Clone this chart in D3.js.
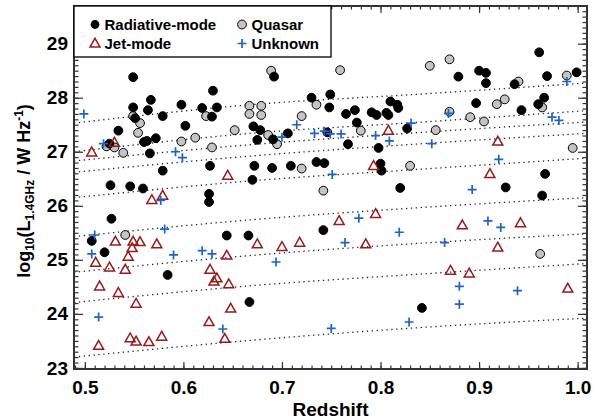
<!DOCTYPE html>
<html>
<head>
<meta charset="utf-8">
<script src="https://cdn.jsdelivr.net/npm/d3@7"></script>
<style>
  body { margin: 0; background: #fff; }
  text { font-family: "Liberation Sans", Arial, Helvetica, sans-serif; font-weight: bold; fill: #000; }
</style>
</head>
<body>
<svg id="chart" width="608" height="419"></svg>
<script>
// [redshift, log10 L(1.4GHz)]
const radiative = [
  [0.549,28.38],[0.630,28.13],[0.567,27.96],[0.549,27.82],[0.564,27.77],[0.598,27.87],[0.619,27.81],
  [0.634,27.82],[0.579,27.66],[0.629,27.65],[0.551,27.62],[0.602,27.48],[0.534,27.39],[0.572,27.25],
  [0.563,27.20],[0.560,27.18],[0.566,26.97],[0.579,26.65],[0.627,26.74],[0.526,26.38],[0.546,26.36],
  [0.559,26.32],[0.626,26.22],[0.626,26.07],[0.525,27.15],[0.527,25.76],[0.507,25.35],[0.520,25.14],
  [0.644,25.45],[0.666,25.45],[0.584,24.72],[0.667,24.22],[0.671,27.47],[0.678,27.40],[0.675,27.22],
  [0.691,27.23],[0.706,27.34],[0.692,28.39],[0.730,28.00],[0.749,28.06],[0.748,27.82],[0.765,27.70],
  [0.774,27.77],[0.791,27.73],[0.796,27.68],[0.806,27.72],[0.808,27.68],[0.810,27.93],[0.817,27.87],
  [0.818,27.81],[0.776,27.54],[0.746,27.36],[0.767,27.14],[0.798,27.07],[0.827,27.43],[0.672,26.74],
  [0.690,26.70],[0.709,26.74],[0.735,26.81],[0.743,26.79],[0.800,26.78],[0.801,26.65],[0.670,26.48],
  [0.820,26.33],[0.879,28.39],[0.900,28.50],[0.907,28.46],[0.907,28.27],[0.961,28.84],[0.969,28.40],
  [0.999,28.47],[0.936,28.25],[0.897,27.90],[0.943,27.77],[0.966,28.00],[0.960,27.88],[0.967,26.59],
  [0.927,26.34],[0.964,26.19],[0.742,25.55],[0.842,24.11]
];
const quasar = [
  [0.689,28.50],[0.759,28.51],[0.850,28.59],[0.870,28.71],[0.549,27.66],[0.556,27.53],[0.554,27.35],
  [0.522,27.10],[0.530,27.08],[0.539,26.98],[0.598,27.19],[0.612,27.26],[0.629,27.08],[0.623,27.66],
  [0.652,27.40],[0.667,27.85],[0.679,27.85],[0.667,27.70],[0.679,27.68],[0.686,27.31],[0.695,27.14],
  [0.720,27.66],[0.735,27.87],[0.780,27.39],[0.720,26.69],[0.830,26.74],[0.742,26.28],[0.856,27.40],
  [0.870,27.74],[0.891,27.64],[0.905,27.56],[0.918,27.88],[0.926,27.97],[0.940,28.30],[0.964,27.82],
  [0.989,28.41],[0.995,27.07],[0.962,25.11],[0.541,25.46]
];
const jetMode = [
  [0.507,26.99],[0.530,27.17],[0.645,26.56],[0.568,26.11],[0.579,26.19],[0.808,27.39],[0.793,26.74],
  [0.795,25.85],[0.758,25.72],[0.919,27.19],[0.911,26.59],[0.531,25.34],[0.549,25.34],[0.556,25.33],
  [0.548,25.22],[0.573,25.29],[0.544,25.06],[0.511,24.95],[0.525,24.86],[0.541,24.82],[0.644,25.08],
  [0.515,24.51],[0.534,24.39],[0.552,24.19],[0.627,24.82],[0.634,24.66],[0.631,24.60],[0.646,24.55],
  [0.648,24.10],[0.626,23.85],[0.642,23.54],[0.546,23.55],[0.552,23.49],[0.565,23.48],[0.578,23.58],
  [0.514,23.41],[0.675,25.29],[0.700,25.24],[0.718,25.32],[0.785,25.29],[0.883,25.64],[0.942,25.68],
  [0.919,25.23],[0.871,24.80],[0.890,24.75],[0.990,24.47]
];
const unknown = [
  [0.499,27.70],[0.519,27.15],[0.592,27.00],[0.599,26.89],[0.577,26.10],[0.715,27.50],[0.700,27.27],
  [0.733,27.34],[0.743,27.38],[0.749,27.33],[0.760,27.33],[0.795,27.30],[0.809,27.20],[0.831,27.53],
  [0.751,26.58],[0.869,27.71],[0.852,27.15],[0.974,27.64],[0.981,27.58],[0.989,28.30],[0.920,26.86],
  [0.893,26.30],[0.510,25.46],[0.507,25.11],[0.581,25.57],[0.590,25.09],[0.619,25.17],[0.629,25.11],
  [0.514,23.94],[0.640,23.72],[0.694,24.96],[0.778,25.77],[0.764,25.32],[0.819,25.51],[0.829,23.85],
  [0.750,23.73],[0.909,25.72],[0.922,25.60],[0.865,25.32],[0.880,24.51],[0.880,24.18],[0.939,24.43]
];

// dotted limit curves, read at these redshifts
const limitZ = [0.489, 0.668, 0.843, 1.008];
const limitLines = [
  [27.53, 27.87, 28.07, 28.27],
  [27.00, 27.34, 27.55, 27.76],
  [26.83, 27.13, 27.36, 27.55],
  [26.62, 26.92, 27.15, 27.34],
  [26.15, 26.46, 26.68, 26.88],
  [25.43, 25.74, 25.97, 26.15],
  [24.77, 25.08, 25.31, 25.48],
  [24.21, 24.52, 24.74, 24.93],
  [23.20, 23.51, 23.75, 23.92]
];

const xTicks = [0.5, 0.6, 0.7, 0.8, 0.9, 1.0];
const xTickLabels = ['0.5', '0.6', '0.7', '0.8', '0.9', '1.0'];
const yTicks = [23, 24, 25, 26, 27, 28, 29];
const legendLabels = ['Radiative-mode', 'Quasar', 'Jet-mode', 'Unknown'];

const pLeft = 74, pRight = 587, pTop = 6, pBottom = 369;
const svg = d3.select('#chart');

const x = d3.scaleLinear().domain([0.489, 1.0095]).range([pLeft, pRight]);
const y = d3.scaleLinear().domain([22.98, 29.697]).range([pBottom, pTop]);

const red = '#9a1a1a', blue = '#1d63cc', axisCol = '#333';

svg.append('defs').append('clipPath').attr('id', 'plotclip')
  .append('rect').attr('x', pLeft).attr('y', pTop).attr('width', pRight - pLeft).attr('height', pBottom - pTop);

// limit curves
const line = d3.line().x(d => x(d[0])).y(d => y(d[1])).curve(d3.curveMonotoneX);
svg.append('g').attr('clip-path', 'url(#plotclip)')
  .selectAll('path').data(limitLines).join('path')
  .attr('d', vals => line(vals.map((v, i) => [limitZ[i], v])))
  .attr('fill', 'none').attr('stroke', '#222').attr('stroke-width', 1.3)
  .attr('stroke-dasharray', '1.3,3.6');

// axes
const minorX = d3.range(49, 101).map(d => d / 100);
const minorY = d3.range(230, 297).map(d => d / 10);

const styleAxis = g => {
  g.select('.domain').remove();
  g.selectAll('line').attr('stroke', axisCol).attr('stroke-width', 1.2);
  g.selectAll('text').attr('font-size', 19).attr('font-family', null).attr('fill', '#000');
};

svg.append('g').attr('transform', `translate(0,${pBottom})`)
  .call(d3.axisBottom(x).tickValues(minorX).tickSize(-3.5).tickFormat('')).call(styleAxis);
svg.append('g').attr('transform', `translate(0,${pBottom})`)
  .call(d3.axisBottom(x).tickValues(xTicks).tickSize(-7).tickPadding(12)
    .tickFormat((d, i) => xTickLabels[i])).call(styleAxis);
svg.append('g').attr('transform', `translate(0,${pTop})`)
  .call(d3.axisTop(x).tickValues(minorX).tickSize(-3.5).tickFormat('')).call(styleAxis);
svg.append('g').attr('transform', `translate(0,${pTop})`)
  .call(d3.axisTop(x).tickValues(xTicks).tickSize(-7).tickFormat('')).call(styleAxis);

svg.append('g').attr('transform', `translate(${pLeft},0)`)
  .call(d3.axisLeft(y).tickValues(minorY).tickSize(-4.5).tickFormat('')).call(styleAxis);
svg.append('g').attr('transform', `translate(${pLeft},0)`)
  .call(d3.axisLeft(y).tickValues(yTicks).tickSize(-9).tickPadding(6).tickFormat(d3.format('d'))).call(styleAxis);
svg.append('g').attr('transform', `translate(${pRight},0)`)
  .call(d3.axisRight(y).tickValues(minorY).tickSize(-4.5).tickFormat('')).call(styleAxis);
svg.append('g').attr('transform', `translate(${pRight},0)`)
  .call(d3.axisRight(y).tickValues(yTicks).tickSize(-9).tickFormat('')).call(styleAxis);

svg.append('rect').attr('x', pLeft).attr('y', pTop).attr('width', pRight - pLeft).attr('height', pBottom - pTop)
  .attr('fill', 'none').attr('stroke', axisCol).attr('stroke-width', 2);

// marker drawers
const triPath = 'M0,-5.2L5,3.6L-5,3.6Z';
const plusPath = 'M-4.5,0H4.5M0,-4.5V4.5';

const drawCircles = (g, data, fill, stroke) => g.selectAll(null).data(data).join('circle')
  .attr('cx', d => x(d[0])).attr('cy', d => y(d[1])).attr('r', 4.4)
  .attr('fill', fill).attr('stroke', stroke).attr('stroke-width', 1);

const pts = svg.append('g').attr('clip-path', 'url(#plotclip)');
drawCircles(pts.append('g'), quasar, '#c4c4c4', '#000');
drawCircles(pts.append('g'), radiative, '#000', '#000');
pts.append('g').selectAll('path').data(jetMode).join('path')
  .attr('transform', d => `translate(${x(d[0])},${y(d[1])})`).attr('d', triPath)
  .attr('fill', 'none').attr('stroke', red).attr('stroke-width', 1.5);
pts.append('g').selectAll('path').data(unknown).join('path')
  .attr('transform', d => `translate(${x(d[0])},${y(d[1])})`).attr('d', plusPath)
  .attr('fill', 'none').attr('stroke', blue).attr('stroke-width', 1.7);

// legend
const lg = svg.append('g');
lg.append('rect').attr('x', pLeft).attr('y', pTop).attr('width', 331 - pLeft).attr('height', 57 - pTop)
  .attr('fill', '#fff').attr('stroke', '#000').attr('stroke-width', 1.3);
const slots = [[95, 24.5], [242, 24.5], [95, 43.5], [242, 43.5]];
lg.append('circle').attr('cx', slots[0][0]).attr('cy', slots[0][1]).attr('r', 4.4).attr('fill', '#000');
lg.append('circle').attr('cx', slots[1][0]).attr('cy', slots[1][1]).attr('r', 4.4)
  .attr('fill', '#c4c4c4').attr('stroke', '#000');
lg.append('path').attr('transform', `translate(${slots[2][0]},${slots[2][1]})`).attr('d', triPath)
  .attr('fill', 'none').attr('stroke', red).attr('stroke-width', 1.5);
lg.append('path').attr('transform', `translate(${slots[3][0]},${slots[3][1]})`).attr('d', plusPath)
  .attr('fill', 'none').attr('stroke', blue).attr('stroke-width', 1.7);
lg.selectAll('text').data(legendLabels).join('text')
  .attr('x', (d, i) => slots[i][0] + 9.5).attr('y', (d, i) => slots[i][1] + 5.5)
  .attr('font-size', 15).text(d => d);

// axis titles
svg.append('text').attr('x', (pLeft + pRight) / 2).attr('y', 416).attr('text-anchor', 'middle')
  .attr('font-size', 19).text('Redshift');

const yt = svg.append('text').attr('transform', 'translate(30,191) rotate(-90)')
  .attr('text-anchor', 'middle').attr('font-size', 18);
yt.append('tspan').text('log');
yt.append('tspan').attr('font-size', 12).attr('dy', 4).text('10');
yt.append('tspan').attr('dy', -4).text('(L');
yt.append('tspan').attr('font-size', 12).attr('dy', 4).text('1.4GHz');
yt.append('tspan').attr('dy', -4).text(' / W Hz');
yt.append('tspan').attr('font-size', 12).attr('dy', -7).text('-1');
yt.append('tspan').attr('dy', 7).text(')');
</script>
</body>
</html>
